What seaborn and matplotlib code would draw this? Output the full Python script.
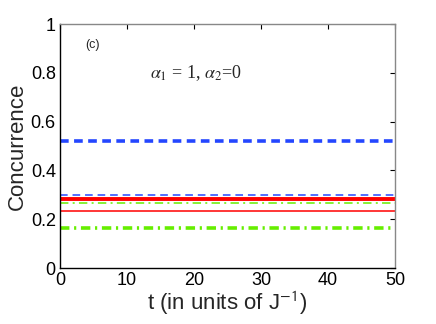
import numpy as np
import pandas as pd
import matplotlib
matplotlib.use('Agg')
import matplotlib.pyplot as plt
import seaborn as sns

# time axis and constant concurrence levels
t = [0, 50]
blue_thick = [0.519, 0.519]
blue_thin = [0.300, 0.300]
red_thick = [0.284, 0.284]
green_thin = [0.265, 0.265]
red_thin = [0.232, 0.232]
green_thick = [0.164, 0.164]

x_ticks = [0, 10, 20, 30, 40, 50]
y_ticks = [0, 0.2, 0.4, 0.6, 0.8, 1]
y_ticklabels = ['0', '0.2', '0.4', '0.6', '0.8', '1']

sns.set_style('white')
plt.rcParams['font.family'] = ['Liberation Sans', 'DejaVu Sans']
plt.rcParams['mathtext.fontset'] = 'stix'

fig = plt.figure(figsize=(4.36, 3.24), dpi=100)
ax = fig.add_axes([0.1376, 0.1728, 0.7684, 0.7531])

blue = '#2446ff'
green = '#66ee00'
red = '#ff0000'

series = [
    (blue_thick, blue, 2.6, (2.4, 1.5)),
    (blue_thin, blue, 1.1, (5.0, 3.2)),
    (red_thick, red, 2.8, None),
    (green_thin, green, 1.1, (5.5, 2.8, 1.3, 2.8)),
    (red_thin, red, 1.1, None),
    (green_thick, green, 2.6, (2.6, 1.3, 0.6, 1.3)),
]

for vals, col, lw, dash in series:
    df = pd.DataFrame({'t': t, 'C': vals})
    sns.lineplot(data=df, x='t', y='C', ax=ax, color=col, linewidth=lw)
    l = ax.lines[-1]
    if dash is not None:
        l.set_dashes(dash)
    l.set_solid_capstyle('butt')
    l.set_dash_capstyle('butt')

ax.set_xlim(0, 50)
ax.set_ylim(0, 1)
ax.set_xticks(x_ticks)
ax.set_yticks(y_ticks)
ax.set_yticklabels(y_ticklabels)
ax.tick_params(direction='in', length=3.5, width=0.8, top=True, right=True,
               labelsize=13, colors='black', pad=3)
for s in ax.spines.values():
    s.set_color('black')
    s.set_linewidth(1.0)
ax.spines['right'].set_color('#888888')
ax.spines['top'].set_color('#888888')

ax.set_xlabel(r't (in units of J$^{\mathsf{-1}}$)', fontsize=16, labelpad=0)
ax.set_ylabel('Concurrence', fontsize=16, labelpad=2)

ax.text(0.075, 0.915, '(c)', transform=ax.transAxes, fontsize=9, va='center')
ax.text(0.27, 0.80, r'$\alpha_1$ = 1, $\alpha_2$=0', transform=ax.transAxes,
        fontsize=13, va='center', family='Liberation Serif')

fig.savefig('out.png', dpi=100)
